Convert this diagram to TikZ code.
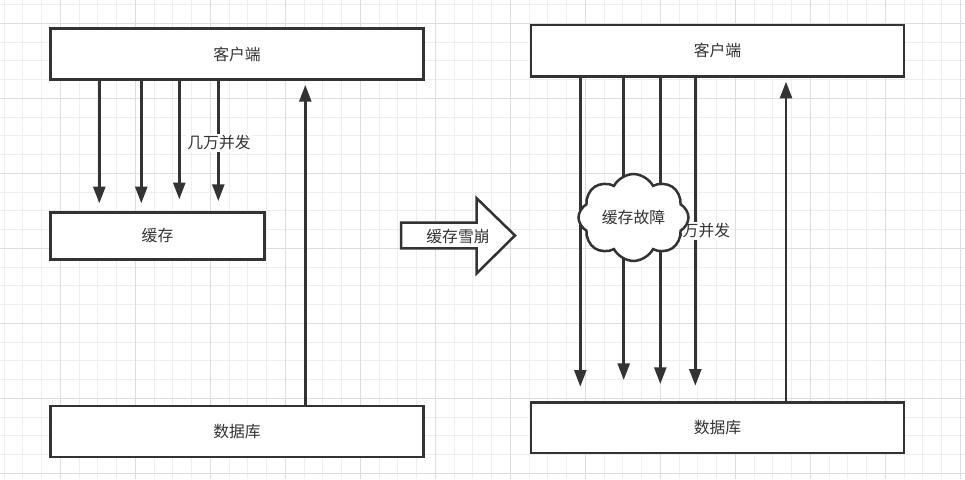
\documentclass[tikz,border=0pt]{standalone}
\usepackage{fontspec}
\setmainfont{Noto Sans CJK SC}
\usepackage[HTML]{xcolor}
\usepackage{tikz}
\usetikzlibrary{positioning, arrows.meta, shapes.symbols}

\definecolor{ink}{HTML}{333333}
\definecolor{gridminor}{HTML}{EEEEEE}
\definecolor{gridmajor}{HTML}{DDDDDD}

\tikzset{
  box/.style={draw=ink, line width=0.075cm, fill=white, text=ink},
  flow/.style={draw=ink, line width=0.075cm, -{Triangle[length=0.5cm, width=0.36cm]}},
  tag/.style={fill=white, text=ink, inner sep=1pt},
}

\begin{document}
\begin{tikzpicture}[x=0.03cm, y=-0.03cm, font=\fontsize{13.5pt}{16pt}\selectfont]
\useasboundingbox (0,0) rectangle (965,479);
\fill[white] (0,0) rectangle (965,479);

% Grid
\foreach \i in {0,...,51}
  \draw[gridminor, line width=0.7pt] ({4.05+18.75*\i},0) -- ({4.05+18.75*\i},479);
\foreach \i in {0,...,25}
  \draw[gridminor, line width=0.7pt] (0,{4.55+18.75*\i}) -- (965,{4.55+18.75*\i});
\foreach \i in {0,...,12}
  \draw[gridmajor, line width=0.9pt] ({60.3+75*\i},0) -- ({60.3+75*\i},479);
\foreach \i in {0,...,6}
  \draw[gridmajor, line width=0.9pt] (0,{23.3+75*\i}) -- (965,{23.3+75*\i});

% Left: normal case
\node[box, minimum width=11.2cm, minimum height=1.54cm] (clientL) at (237,54) {客户端};
\node[box, minimum width=6.43cm, minimum height=1.42cm] (cacheL) at (157.5,236) {缓存};
\node[box, minimum width=11.2cm, minimum height=1.53cm] (dbL) at (237,431.5) {数据库};

\foreach \x/\y [count=\i] in {99.3/203.3, 141.3/203.3, 179.3/199.3, 218.3/201}{
  \coordinate (hitL\i) at (\x,\y);
  \draw[flow] (clientL.south -| hitL\i) -- (hitL\i);
}
\node[tag] (loadL) at (219,143) {几万并发};

\coordinate (backL) at (305.3,85);
\draw[flow] (dbL.north -| backL) -- (backL);

% Transition arrow
\draw[draw=ink, line width=0.075cm, fill=white, line join=miter]
  (401,222.7) -- (476.7,222.7) -- (476.7,198.3) -- (515,235.5)
  -- (476.7,273.3) -- (476.7,248.3) -- (401,248.3) -- cycle;
\node[text=ink] (avalanche) at (458,236.5) {缓存雪崩};

% Right: cache down
\node[box, minimum width=11.19cm, minimum height=1.54cm] (clientR) at (717.5,50.7) {客户端};
\node[box, minimum width=11.19cm, minimum height=1.51cm] (dbR) at (717.5,427.8) {数据库};

\foreach \x/\y [count=\i] in {580.3/386.7, 623.7/380, 660.3/384, 695.3/385.7}{
  \coordinate (hitR\i) at (\x,\y);
  \draw[flow] (clientR.south -| hitR\i) -- (hitR\i);
}
\node[tag] (loadR) at (698.5,231) {几万并发};

\coordinate (backR) at (786,81.7);
\draw[flow] (dbR.north -| backR) -- (backR);

\node[cloud, draw=ink, line width=0.075cm, fill=white, text=ink, cloud puffs=8,
  cloud puff arc=125, aspect=1.25, minimum width=3.3cm, minimum height=2.55cm,
  inner sep=0pt] (fault) at (633.5,217.5) {缓存故障};
\end{tikzpicture}
\end{document}
